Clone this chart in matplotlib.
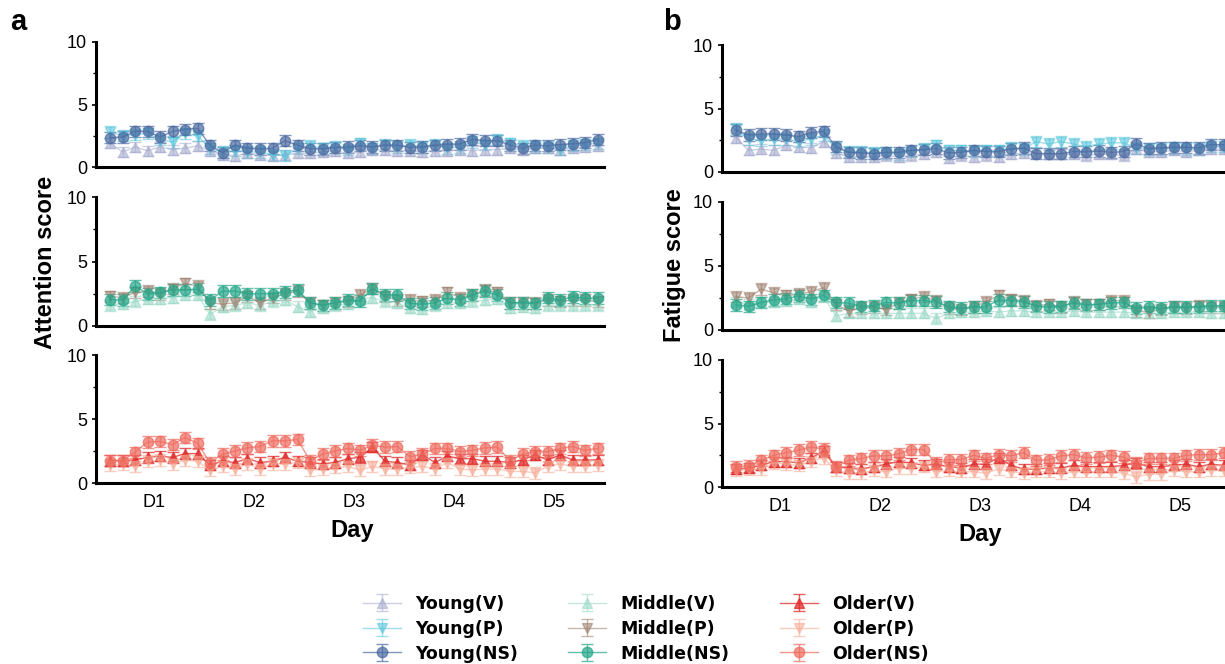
"""
Attention / fatigue score across days for three age groups and three conditions.
"""

import matplotlib
matplotlib.use("Agg")
import matplotlib.pyplot as plt
import numpy as np

DAYS = ["D1", "D2", "D3", "D4", "D5"]
SESSIONS_PER_DAY = 8

# ---- Attention score (panel a) ----
ATT_YOUNG_V = [1.9, 1.2, 1.6, 1.3, 1.6, 1.4, 1.5, 1.7,
               1.3, 1.0, 0.9, 1.1, 1.0, 0.9, 1.0, 1.1,
               1.1, 1.2, 1.3, 1.1, 1.2, 1.4, 1.4, 1.3,
               1.3, 1.2, 1.3, 1.3, 1.4, 1.3, 1.4, 1.4,
               1.5, 1.4, 1.5, 1.5, 1.4, 1.5, 1.6, 1.7]
ATT_YOUNG_P = [2.8, 2.5, 2.6, 2.7, 2.2, 2.0, 2.7, 2.5,
               1.5, 1.2, 1.3, 1.2, 1.2, 1.0, 0.9, 1.5,
               1.7, 1.5, 1.6, 1.4, 1.9, 1.5, 1.8, 1.6,
               1.8, 1.6, 1.8, 1.5, 1.6, 2.0, 1.8, 2.2,
               1.9, 1.7, 1.6, 1.6, 1.4, 1.7, 1.8, 1.9]
ATT_YOUNG_NS = [2.35, 2.4, 2.85, 2.85, 2.4, 2.85, 3.0, 3.1,
                1.75, 1.15, 1.75, 1.5, 1.45, 1.5, 2.1, 1.75,
                1.45, 1.45, 1.55, 1.6, 1.7, 1.6, 1.75, 1.75,
                1.55, 1.6, 1.75, 1.8, 1.85, 2.2, 2.1, 2.1,
                1.75, 1.5, 1.75, 1.7, 1.8, 1.85, 1.95, 2.2]
ATT_MIDDLE_V = [1.6, 1.7, 1.9, 2.1, 2.1, 2.2, 2.4, 2.4,
                0.9, 1.5, 1.6, 1.8, 1.6, 1.9, 2.0, 1.5,
                1.1, 1.4, 1.6, 1.7, 2.1, 2.2, 1.9, 1.8,
                1.4, 1.3, 1.6, 1.8, 1.8, 1.9, 2.0, 2.1,
                1.4, 1.5, 1.4, 1.6, 1.6, 1.6, 1.6, 1.6]
ATT_MIDDLE_P = [2.3, 2.2, 2.6, 2.7, 2.5, 2.9, 3.3, 3.1,
                1.8, 1.7, 1.8, 2.3, 1.8, 2.2, 2.5, 2.7,
                1.8, 1.6, 1.8, 1.9, 2.4, 2.9, 2.3, 2.0,
                2.0, 1.9, 2.0, 2.6, 2.2, 2.4, 2.8, 2.6,
                1.8, 1.8, 1.8, 2.0, 1.9, 2.0, 2.0, 1.9]
ATT_MIDDLE_NS = [2.05, 2.0, 3.1, 2.5, 2.6, 2.8, 2.8, 2.85,
                 2.0, 2.7, 2.7, 2.5, 2.5, 2.5, 2.65, 2.8,
                 1.8, 1.6, 1.8, 2.0, 1.95, 2.9, 2.4, 2.4,
                 1.75, 1.7, 1.8, 2.15, 2.0, 2.4, 2.7, 2.4,
                 1.8, 1.8, 1.75, 2.2, 2.0, 2.25, 2.15, 2.15]
ATT_OLDER_V = [1.75, 1.75, 1.8, 2.0, 2.1, 2.0, 2.3, 2.3,
               1.4, 1.7, 1.6, 1.9, 1.6, 1.7, 2.0, 1.7,
               1.6, 1.5, 1.6, 1.9, 2.0, 2.8, 1.7, 1.6,
               1.4, 2.2, 1.6, 2.1, 1.9, 1.9, 1.7, 1.7,
               1.6, 1.8, 2.2, 1.8, 2.2, 1.8, 1.8, 1.8]
ATT_OLDER_P = [1.4, 1.5, 1.3, 1.7, 1.8, 1.5, 1.8, 1.7,
               1.0, 1.3, 1.1, 1.5, 1.1, 1.5, 1.5, 1.6,
               1.0, 1.1, 1.2, 1.3, 1.0, 1.3, 1.1, 1.1,
               1.2, 1.3, 1.1, 1.6, 1.1, 1.0, 1.1, 1.1,
               0.9, 0.9, 0.8, 1.3, 1.5, 1.3, 1.3, 1.4]
ATT_OLDER_NS = [1.75, 1.75, 2.4, 3.2, 3.25, 3.0, 3.55, 3.1,
                1.6, 2.25, 2.5, 2.75, 2.85, 3.3, 3.3, 3.4,
                1.75, 2.25, 2.5, 2.7, 2.55, 2.95, 2.8, 2.85,
                2.05, 2.25, 2.7, 2.7, 2.45, 2.55, 2.75, 2.8,
                1.75, 2.25, 2.45, 2.45, 2.7, 2.85, 2.55, 2.7]

# ---- Fatigue score (panel b) ----
FAT_YOUNG_V = [2.7, 1.7, 1.8, 1.7, 2.1, 2.0, 1.9, 2.4,
               1.5, 1.2, 1.2, 1.2, 1.3, 1.2, 1.3, 1.4,
               1.6, 1.1, 1.3, 1.2, 1.3, 1.2, 1.4, 1.5,
               1.5, 1.4, 1.4, 1.4, 1.3, 1.4, 1.4, 1.3,
               1.8, 1.6, 1.6, 1.7, 1.6, 1.7, 1.8, 1.8]
FAT_YOUNG_P = [3.4, 2.6, 2.5, 2.6, 2.6, 2.4, 2.6, 2.9,
               1.9, 1.6, 1.6, 1.5, 1.5, 1.4, 1.6, 1.8,
               2.1, 1.7, 1.7, 1.6, 1.7, 1.7, 1.9, 1.8,
               2.4, 2.2, 2.4, 2.2, 2.0, 2.2, 2.3, 2.3,
               1.9, 1.8, 1.8, 1.9, 1.8, 1.8, 2.0, 2.0]
FAT_YOUNG_NS = [3.3, 2.9, 3.0, 3.0, 2.9, 2.8, 3.1, 3.2,
                2.0, 1.55, 1.5, 1.45, 1.55, 1.55, 1.7, 1.75,
                1.85, 1.5, 1.55, 1.7, 1.6, 1.6, 1.8, 1.9,
                1.45, 1.45, 1.45, 1.6, 1.6, 1.65, 1.55, 1.6,
                2.2, 1.85, 1.9, 1.95, 1.95, 1.9, 2.15, 2.15]
FAT_MIDDLE_V = [2.2, 2.0, 2.2, 2.2, 2.3, 2.4, 2.2, 2.6,
                1.1, 1.3, 1.3, 1.3, 1.3, 1.3, 1.3, 1.3,
                0.9, 1.3, 1.4, 1.4, 1.5, 1.4, 1.5, 1.5,
                1.4, 1.4, 1.4, 1.5, 1.4, 1.4, 1.4, 1.4,
                1.3, 1.3, 1.3, 1.4, 1.4, 1.4, 1.3, 1.3]
FAT_MIDDLE_P = [2.6, 2.5, 3.2, 2.9, 2.7, 2.8, 3.0, 3.3,
                2.0, 1.5, 1.7, 1.8, 1.6, 2.1, 2.4, 2.6,
                2.3, 1.7, 1.6, 1.8, 2.2, 2.7, 2.4, 2.3,
                1.9, 2.0, 1.8, 2.2, 2.0, 2.0, 2.3, 2.3,
                1.5, 1.4, 1.6, 1.8, 1.7, 1.9, 1.8, 1.8]
FAT_MIDDLE_NS = [1.95, 1.85, 2.15, 2.35, 2.45, 2.65, 2.4, 2.7,
                 2.15, 2.1, 1.85, 1.9, 2.15, 2.1, 2.3, 2.3,
                 2.2, 1.85, 1.7, 1.8, 1.8, 2.35, 2.3, 2.2,
                 1.85, 1.8, 1.85, 2.1, 1.95, 2.0, 2.1, 2.15,
                 1.7, 1.8, 1.7, 1.8, 1.8, 1.8, 1.9, 1.9]
FAT_OLDER_V = [1.4, 1.5, 1.7, 2.0, 2.0, 1.9, 2.3, 2.8,
               1.6, 1.5, 1.4, 1.6, 1.8, 2.0, 1.9, 1.7,
               1.8, 1.6, 1.5, 1.8, 1.8, 2.3, 1.7, 1.4,
               1.4, 1.5, 1.5, 1.7, 1.6, 1.6, 1.6, 1.7,
               1.9, 1.6, 1.6, 1.7, 1.8, 1.6, 1.8, 1.7]
FAT_OLDER_P = [1.3, 1.4, 1.4, 1.9, 1.8, 1.7, 2.0, 2.3,
               1.3, 1.1, 1.1, 1.3, 1.2, 1.5, 1.5, 1.6,
               1.2, 1.3, 1.2, 1.2, 1.1, 1.4, 1.2, 1.1,
               1.2, 1.2, 1.1, 1.2, 1.2, 1.2, 1.2, 1.1,
               0.8, 1.0, 1.0, 1.3, 1.2, 1.2, 1.3, 1.3]
FAT_OLDER_NS = [1.6, 1.65, 2.1, 2.5, 2.7, 2.9, 3.15, 3.0,
                1.6, 2.1, 2.25, 2.45, 2.45, 2.6, 2.95, 2.95,
                1.9, 2.15, 2.15, 2.5, 2.25, 2.55, 2.45, 2.7,
                2.1, 2.15, 2.45, 2.55, 2.3, 2.35, 2.5, 2.35,
                1.9, 2.25, 2.25, 2.25, 2.5, 2.55, 2.55, 2.7]

# Standard error (one value per condition)
SEM_V = 0.40
SEM_P = 0.45
SEM_NS = 0.45

GROUPS = ["Young", "Middle", "Older"]
CONDITIONS = ["V", "P", "NS"]
MARKERS = {"V": "^", "P": "v", "NS": "o"}
SEMS = {"V": SEM_V, "P": SEM_P, "NS": SEM_NS}
COLORS = {
    ("Young", "V"): "#a3a9cc",
    ("Young", "P"): "#4fc3da",
    ("Young", "NS"): "#4a6aa0",
    ("Middle", "V"): "#98d8c6",
    ("Middle", "P"): "#9a7b69",
    ("Middle", "NS"): "#23a689",
    ("Older", "V"): "#e02a2a",
    ("Older", "P"): "#f7a891",
    ("Older", "NS"): "#ee6a5e",
}

ATTENTION = {
    "Young": {"V": ATT_YOUNG_V, "P": ATT_YOUNG_P, "NS": ATT_YOUNG_NS},
    "Middle": {"V": ATT_MIDDLE_V, "P": ATT_MIDDLE_P, "NS": ATT_MIDDLE_NS},
    "Older": {"V": ATT_OLDER_V, "P": ATT_OLDER_P, "NS": ATT_OLDER_NS},
}
FATIGUE = {
    "Young": {"V": FAT_YOUNG_V, "P": FAT_YOUNG_P, "NS": FAT_YOUNG_NS},
    "Middle": {"V": FAT_MIDDLE_V, "P": FAT_MIDDLE_P, "NS": FAT_MIDDLE_NS},
    "Older": {"V": FAT_OLDER_V, "P": FAT_OLDER_P, "NS": FAT_OLDER_NS},
}

TICK_FONT = "Liberation Sans"
W, H = 1225, 664


def draw_panel(fig, data, left_px, rows_px, ylabel, ylabel_xy, day_xy):
    handles = {}
    x = np.arange(len(DAYS) * SESSIONS_PER_DAY)
    tick_pos = [i * SESSIONS_PER_DAY + (SESSIONS_PER_DAY - 1) / 2 for i in range(len(DAYS))]
    width_px = 508
    for gi, (group, (top, bottom)) in enumerate(zip(GROUPS, rows_px)):
        ax = fig.add_axes([left_px / W, 1 - bottom / H, width_px / W, (bottom - top) / H])
        for cond in CONDITIONS:
            y = np.array(data[group][cond])
            alpha = 0.55 if cond != "NS" else 0.7
            if (group, cond) == ("Older", "V"):
                alpha = 0.75
            h = ax.errorbar(x, y, yerr=SEMS[cond], fmt=MARKERS[cond] + "-",
                            color=COLORS[(group, cond)], ms=7.5, lw=1.0,
                            elinewidth=1.0, capsize=4, capthick=1.0, alpha=alpha)
            handles[(group, cond)] = h
        ax.set_xlim(-1.12, 39.52)
        ax.set_ylim(0, 10)
        ax.set_yticks([0, 5, 10])
        ax.set_yticks([2.5, 7.5], minor=True)
        ax.tick_params(axis="y", which="major", length=3, width=1.2, labelsize=13)
        ax.tick_params(axis="y", which="minor", length=2, width=1.0)
        for lab in ax.get_yticklabels():
            lab.set_fontfamily(TICK_FONT)
        for s in ["top", "right"]:
            ax.spines[s].set_visible(False)
        ax.spines["left"].set_linewidth(2.2)
        ax.spines["bottom"].set_linewidth(2.2)
        ax.set_xticks(tick_pos)
        if gi < 2:
            ax.set_xticklabels([])
            ax.tick_params(axis="x", length=0)
        else:
            ax.set_xticklabels(DAYS, fontsize=13, fontfamily=TICK_FONT)
            ax.tick_params(axis="x", length=0, pad=8)

    fig.text(ylabel_xy[0] / W, 1 - ylabel_xy[1] / H, ylabel, rotation=90,
             ha="center", va="center", fontsize=17, fontweight="bold", family=TICK_FONT)
    fig.text(day_xy[0] / W, 1 - day_xy[1] / H, "Day", ha="center", va="center",
             fontsize=17, fontweight="bold", family=TICK_FONT)
    return handles


def main():
    fig = plt.figure(figsize=(W / 100, H / 100), dpi=100)

    handles = draw_panel(fig, ATTENTION, 96, [(42, 167), (197, 326), (355, 483)],
                         "Attention score", (45, 262), (352, 530))
    draw_panel(fig, FATIGUE, 722, [(45, 172), (202, 330), (360, 487)],
               "Fatigue score", (674, 265), (980, 535))

    fig.text(10 / W, 1 - 22 / H, "a", fontsize=21, fontweight="bold",
             family=TICK_FONT, va="center")
    fig.text(663 / W, 1 - 22 / H, "b", fontsize=21, fontweight="bold",
             family=TICK_FONT, va="center")

    order = [(g, c) for g in GROUPS for c in CONDITIONS]
    fig.legend([handles[k] for k in order], [f"{g}({c})" for g, c in order],
               loc="upper center", bbox_to_anchor=(0.527, 0.128), ncol=3,
               frameon=False, handlelength=2.2, columnspacing=2.9,
               labelspacing=0.4, prop={"family": "DejaVu Sans", "weight": "bold", "size": 12.5})

    fig.savefig("out.png", dpi=100)
    plt.close(fig)


if __name__ == "__main__":
    main()
